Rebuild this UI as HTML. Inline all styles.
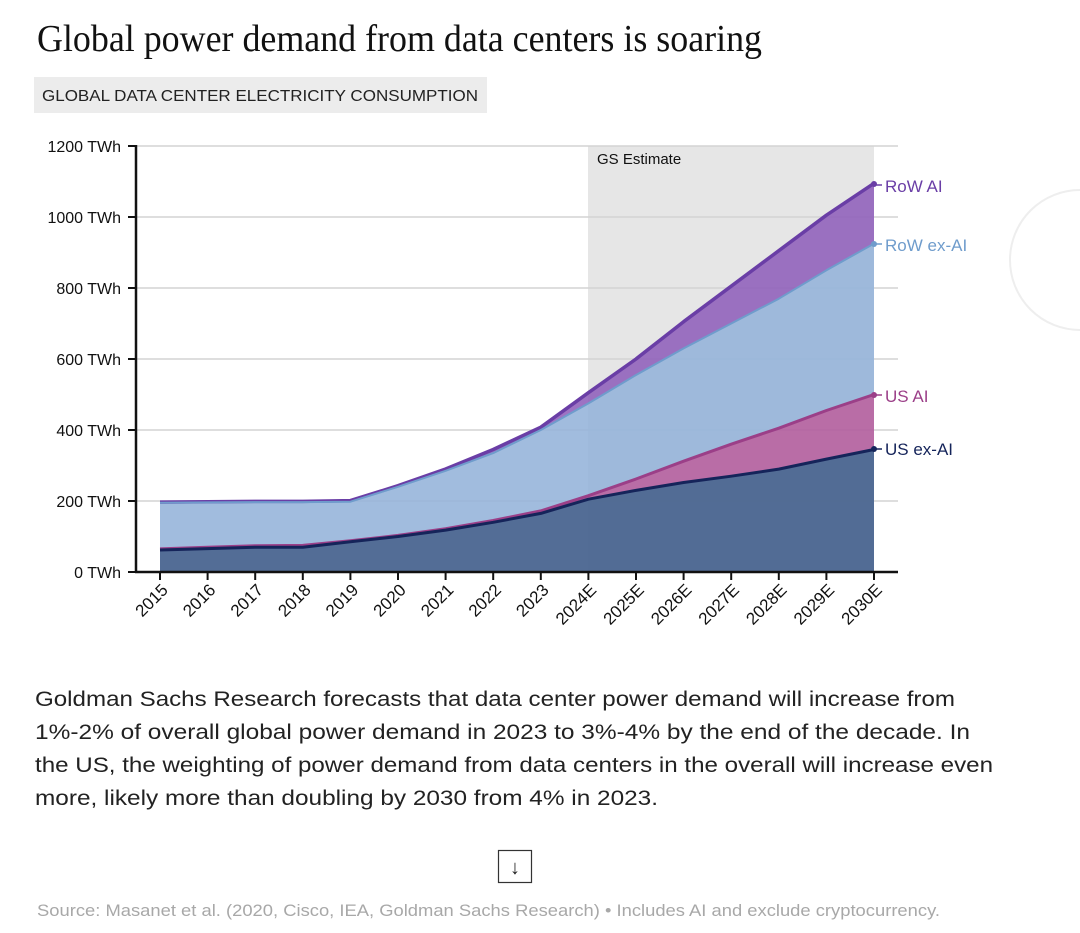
<!DOCTYPE html>
<html><head><meta charset="utf-8"><style>
html,body{margin:0;padding:0;background:#fff;}
svg{display:block;}
text{font-family:"Liberation Sans",sans-serif;}
</style></head><body>
<svg width="1080" height="933" viewBox="0 0 1080 933" xmlns="http://www.w3.org/2000/svg">
<rect width="1080" height="933" fill="#fff"/>
<path d="M1080 190 A70 70 0 0 0 1080 330" fill="none" stroke="#eee" stroke-width="2"/>
<text x="37" y="51" font-size="38" fill="#111" textLength="725" lengthAdjust="spacingAndGlyphs" style="font-family:'Liberation Serif',serif">Global power demand from data centers is soaring</text>
<rect x="34" y="77" width="453" height="36" fill="#ececec"/>
<text x="42" y="101" font-size="15.5" fill="#222" textLength="436" lengthAdjust="spacingAndGlyphs">GLOBAL DATA CENTER ELECTRICITY CONSUMPTION</text>

<rect x="588" y="146" width="286" height="426" fill="#e6e6e6"/>
<g stroke="#d4d4d4" stroke-width="1.5">
<line x1="136" y1="146" x2="898" y2="146"/><line x1="136" y1="217" x2="898" y2="217"/>
<line x1="136" y1="288" x2="898" y2="288"/><line x1="136" y1="359" x2="898" y2="359"/>
<line x1="136" y1="430" x2="898" y2="430"/><line x1="136" y1="501" x2="898" y2="501"/>
</g>
<text x="597" y="164" font-size="15" fill="#111">GS Estimate</text>

<path fill="#8c5bb8" fill-opacity="0.85" d="M160 502.1 L207.6 501.7 L255.2 501.4 L302.8 501.4 L350.4 500.6 L398 485.7 L445.6 469 L493.2 449.5 L540.8 427.2 L588.4 392.7 L636 359 L683.6 321.7 L731.2 286.2 L778.8 250.7 L826.4 215.2 L874 183.3 L874 243.6 L826.4 270.3 L778.8 298.7 L731.2 323.5 L683.6 348.4 L636 375 L588.4 403.4 L540.8 430 L493.2 453.1 L445.6 470.8 L398 486.8 L350.4 501.7 L302.8 502.1 L255.2 502.1 L207.6 502.4 L160 502.8 Z"/>
<path fill="#94b3da" fill-opacity="0.88" d="M160 502.8 L207.6 502.4 L255.2 502.1 L302.8 502.1 L350.4 501.7 L398 486.8 L445.6 470.8 L493.2 453.1 L540.8 430 L588.4 403.4 L636 375 L683.6 348.4 L731.2 323.5 L778.8 298.7 L826.4 270.3 L874 243.6 L874 394.5 L826.4 410.5 L778.8 428.2 L731.2 444.2 L683.6 461.2 L636 479 L588.4 495.7 L540.8 510.9 L493.2 520.5 L445.6 528.7 L398 535.4 L350.4 540.8 L302.8 545.4 L255.2 545.7 L207.6 547.2 L160 548.9 Z"/>
<path fill="#b0579a" fill-opacity="0.85" d="M160 548.9 L207.6 547.2 L255.2 545.7 L302.8 545.4 L350.4 540.8 L398 535.4 L445.6 528.7 L493.2 520.5 L540.8 510.9 L588.4 495.7 L636 479 L683.6 461.2 L731.2 444.2 L778.8 428.2 L826.4 410.5 L874 394.5 L874 449.5 L826.4 459.1 L778.8 469.1 L731.2 476.2 L683.6 482.5 L636 490.4 L588.4 499.2 L540.8 513.4 L493.2 522.3 L445.6 530.1 L398 536.5 L350.4 541.8 L302.8 547.2 L255.2 547.2 L207.6 548.6 L160 550 Z"/>
<path fill="#4a6590" fill-opacity="0.95" d="M160 550 L207.6 548.6 L255.2 547.2 L302.8 547.2 L350.4 541.8 L398 536.5 L445.6 530.1 L493.2 522.3 L540.8 513.4 L588.4 499.2 L636 490.4 L683.6 482.5 L731.2 476.2 L778.8 469.1 L826.4 459.1 L874 449.5 L874 572 L160 572 Z"/>

<g fill="none" stroke-linejoin="round">
<polyline stroke="#6a3ea6" stroke-width="3.5" points="160,502.1 207.6,501.7 255.2,501.4 302.8,501.4 350.4,500.6 398,485.7 445.6,469 493.2,449.5 540.8,427.2 588.4,392.7 636,359 683.6,321.7 731.2,286.2 778.8,250.7 826.4,215.2 874,183.3"/>
<polyline stroke="#6f9ccc" stroke-width="2" points="160,502.8 207.6,502.4 255.2,502.1 302.8,502.1 350.4,501.7 398,486.8 445.6,470.8 493.2,453.1 540.8,430 588.4,403.4 636,375 683.6,348.4 731.2,323.5 778.8,298.7 826.4,270.3 874,243.6"/>
<polyline stroke="#9b3f88" stroke-width="3" points="160,548.9 207.6,547.2 255.2,545.7 302.8,545.4 350.4,540.8 398,535.4 445.6,528.7 493.2,520.5 540.8,510.9 588.4,495.7 636,479 683.6,461.2 731.2,444.2 778.8,428.2 826.4,410.5 874,394.5"/>
<polyline stroke="#15245a" stroke-width="3" points="160,550 207.6,548.6 255.2,547.2 302.8,547.2 350.4,541.8 398,536.5 445.6,530.1 493.2,522.3 540.8,513.4 588.4,499.2 636,490.4 683.6,482.5 731.2,476.2 778.8,469.1 826.4,459.1 874,449.5"/>
</g>
<circle cx="874" cy="184" r="3" fill="#6a3ea6"/><circle cx="874" cy="244" r="3" fill="#6f9ccc"/>
<circle cx="874" cy="395" r="3" fill="#9b3f88"/><circle cx="874" cy="449" r="3" fill="#15245a"/>
<g stroke-width="1.5"><line x1="876" y1="185" x2="882" y2="185" stroke="#6a3ea6"/><line x1="876" y1="244" x2="882" y2="244" stroke="#6f9ccc"/><line x1="876" y1="395" x2="882" y2="395" stroke="#9b3f88"/><line x1="876" y1="449" x2="882" y2="449" stroke="#15245a"/></g>
<g font-size="17">
<text x="885" y="192" fill="#6a3ea6">RoW AI</text>
<text x="885" y="251" fill="#6f9ccc">RoW ex-AI</text>
<text x="885" y="402" fill="#9b3f88">US AI</text>
<text x="885" y="455" fill="#15245a">US ex-AI</text>
</g>

<g stroke="#111" stroke-width="2.5" fill="none">
<line x1="136" y1="145" x2="136" y2="573"/>
<line x1="135" y1="572" x2="898" y2="572"/>
</g>
<g stroke="#111" stroke-width="2">
<line x1="128" y1="146" x2="136" y2="146"/><line x1="128" y1="217" x2="136" y2="217"/><line x1="128" y1="288" x2="136" y2="288"/><line x1="128" y1="359" x2="136" y2="359"/><line x1="128" y1="430" x2="136" y2="430"/><line x1="128" y1="501" x2="136" y2="501"/><line x1="128" y1="572" x2="136" y2="572"/>
<line x1="160" y1="572" x2="160" y2="580"/><line x1="207.6" y1="572" x2="207.6" y2="580"/><line x1="255.2" y1="572" x2="255.2" y2="580"/><line x1="302.8" y1="572" x2="302.8" y2="580"/><line x1="350.4" y1="572" x2="350.4" y2="580"/><line x1="398" y1="572" x2="398" y2="580"/><line x1="445.6" y1="572" x2="445.6" y2="580"/><line x1="493.2" y1="572" x2="493.2" y2="580"/><line x1="540.8" y1="572" x2="540.8" y2="580"/><line x1="588.4" y1="572" x2="588.4" y2="580"/><line x1="636" y1="572" x2="636" y2="580"/><line x1="683.6" y1="572" x2="683.6" y2="580"/><line x1="731.2" y1="572" x2="731.2" y2="580"/><line x1="778.8" y1="572" x2="778.8" y2="580"/><line x1="826.4" y1="572" x2="826.4" y2="580"/><line x1="874" y1="572" x2="874" y2="580"/>
</g>
<g font-size="16" fill="#111" text-anchor="end">
<text x="121" y="152">1200 TWh</text><text x="121" y="223">1000 TWh</text><text x="121" y="294">800 TWh</text><text x="121" y="365">600 TWh</text><text x="121" y="436">400 TWh</text><text x="121" y="507">200 TWh</text><text x="121" y="578">0 TWh</text>
</g>
<g font-size="17" fill="#111" text-anchor="end">
<text transform="translate(169,591) rotate(-45)">2015</text>
<text transform="translate(216.6,591) rotate(-45)">2016</text>
<text transform="translate(264.2,591) rotate(-45)">2017</text>
<text transform="translate(311.8,591) rotate(-45)">2018</text>
<text transform="translate(359.4,591) rotate(-45)">2019</text>
<text transform="translate(407,591) rotate(-45)">2020</text>
<text transform="translate(454.6,591) rotate(-45)">2021</text>
<text transform="translate(502.2,591) rotate(-45)">2022</text>
<text transform="translate(549.8,591) rotate(-45)">2023</text>
<text transform="translate(597.4,591) rotate(-45)">2024E</text>
<text transform="translate(645,591) rotate(-45)">2025E</text>
<text transform="translate(692.6,591) rotate(-45)">2026E</text>
<text transform="translate(740.2,591) rotate(-45)">2027E</text>
<text transform="translate(787.8,591) rotate(-45)">2028E</text>
<text transform="translate(835.4,591) rotate(-45)">2029E</text>
<text transform="translate(883,591) rotate(-45)">2030E</text>
</g>

<g font-size="21.5" fill="#222">
<text x="35" y="706" textLength="920" lengthAdjust="spacingAndGlyphs">Goldman Sachs Research forecasts that  data center power demand will increase from</text>
<text x="35" y="739" textLength="935" lengthAdjust="spacingAndGlyphs">1%-2% of overall global power demand in 2023  to 3%-4% by the end of the decade. In</text>
<text x="35" y="772" textLength="958" lengthAdjust="spacingAndGlyphs">the US, the weighting of power demand from data centers in the overall will increase even</text>
<text x="35" y="805" textLength="623" lengthAdjust="spacingAndGlyphs">more, likely more than doubling by 2030 from 4% in 2023.</text>
</g>
<rect x="498.5" y="850.5" width="33" height="32" fill="#fff" stroke="#333" stroke-width="1.2"/>
<text x="515" y="874" font-size="20" fill="#222" text-anchor="middle">↓</text>
<text x="37" y="916" font-size="16.5" fill="#a8a8a8" textLength="903" lengthAdjust="spacingAndGlyphs">Source: Masanet et al. (2020, Cisco, IEA, Goldman Sachs Research) • Includes AI and exclude cryptocurrency.</text>
</svg>
</body></html>
